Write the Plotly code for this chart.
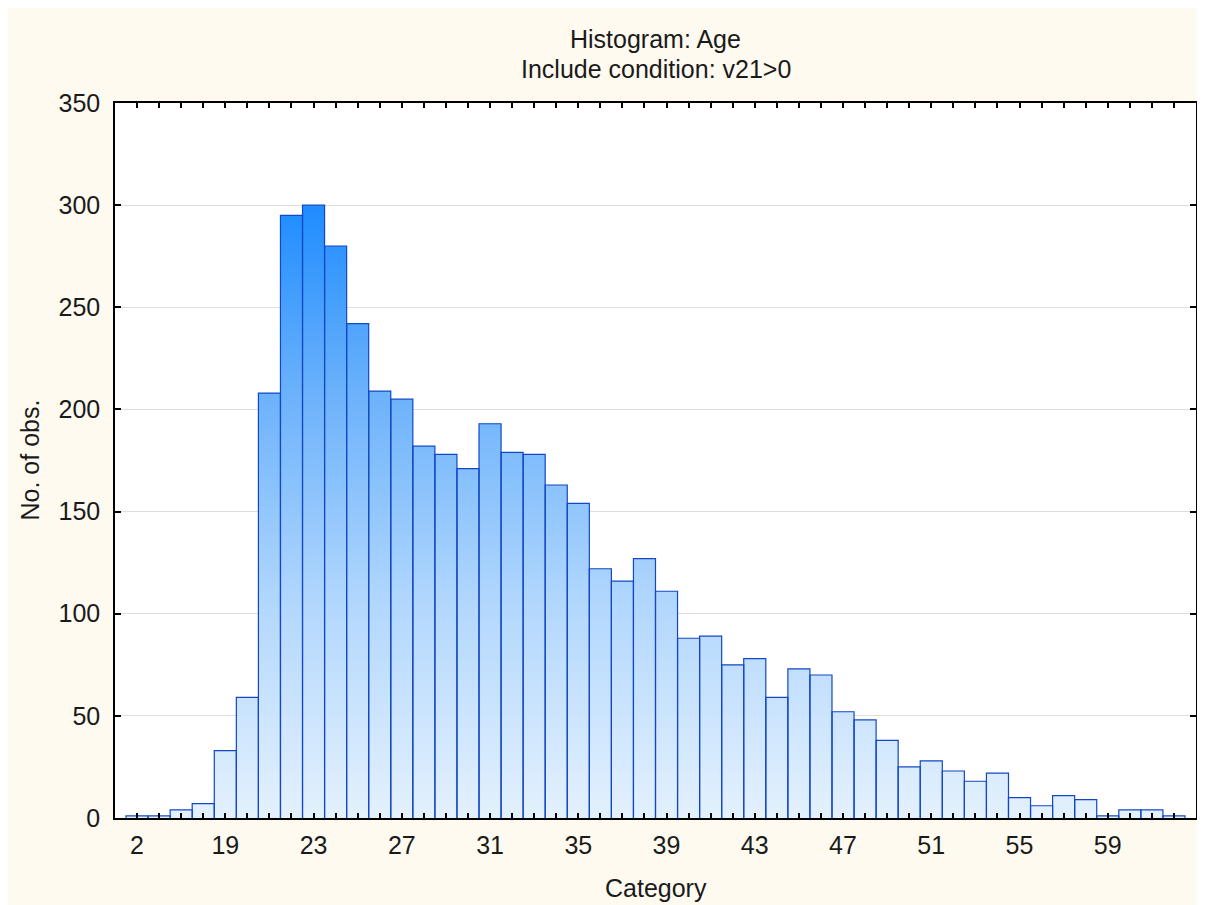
import plotly.graph_objects as go

categories = ["2"] + [str(c) for c in range(16, 63)]
counts = [1, 1, 4, 7, 33, 59, 208, 295, 300, 280, 242, 209, 205, 182, 178, 171,
          193, 179, 178, 163, 154, 122, 116, 127, 111, 88, 89, 75, 78, 59, 73, 70,
          52, 48, 38, 25, 28, 23, 18, 22, 10, 6, 11, 9, 1, 4, 4, 1]
label_every = 4
y_ticks = [0, 50, 100, 150, 200, 250, 300, 350]

idx = list(range(len(categories)))
ticktext = [c if i % label_every == 0 else "" for i, c in enumerate(categories)]

# stepped outline for the gradient fill, derived from counts
step_x = [i - 0.5 for i in idx] + [idx[-1] + 0.5]
step_y = counts + [counts[-1]]

# bar outlines, derived from counts
ox, oy = [], []
for i, v in zip(idx, counts):
    ox += [i - 0.5, i - 0.5, i + 0.5, i + 0.5, None]
    oy += [0, v, v, 0, None]

font = "Liberation Sans, Arial, Helvetica, sans-serif"
txt = "#1a1a1a"
cream = "#FEFAF0"
FS = 25

fig = go.Figure()
fig.add_trace(go.Scatter(
    x=step_x, y=step_y, mode="lines", line=dict(shape="hv", width=0),
    fill="tozeroy",
    fillgradient=dict(type="vertical", start=0, stop=300,
                      colorscale=[[0, "#E4F1FD"], [0.35, "#B2D7FD"],
                                  [0.7, "#6AB1FB"], [1, "#1E8CFF"]]),
    hoverinfo="skip", showlegend=False))
fig.add_trace(go.Scatter(
    x=ox, y=oy, mode="lines", line=dict(color="#1248C6", width=1.2),
    hoverinfo="skip", showlegend=False))

W, H = 1205, 905
ml, mr, mt, mb = 107, 17, 95, 95
pw, ph = W - ml - mr, H - mt - mb

def px_x(p):
    return (p - ml) / pw

def px_y(p):
    return 1 - (p - mt) / ph

fig.update_layout(
    width=W, height=H,
    margin=dict(l=ml, r=mr, t=mt, b=mb),
    paper_bgcolor=cream, plot_bgcolor="white",
    font=dict(family=font, size=FS, color=txt),
    annotations=[
        dict(text="Histogram: Age", xref="paper", yref="paper", x=0.5, y=px_y(31),
             xanchor="center", yanchor="middle", showarrow=False, font=dict(size=FS)),
        dict(text="Include condition: v21>0", xref="paper", yref="paper", x=0.5, y=px_y(61),
             xanchor="center", yanchor="middle", showarrow=False, font=dict(size=FS)),
        dict(text="Category", xref="paper", yref="paper", x=0.5, y=px_y(880),
             xanchor="center", yanchor="middle", showarrow=False, font=dict(size=FS)),
        dict(text="No. of obs.", xref="paper", yref="paper", x=px_x(21), y=0.5,
             xanchor="center", yanchor="middle", textangle=-90, showarrow=False,
             font=dict(size=FS)),
    ],
)
fig.update_xaxes(
    range=[-1, len(categories)], tickmode="array", tickvals=idx, ticktext=ticktext,
    ticks="inside", ticklen=5, tickwidth=1.5, tickcolor="black",
    showline=True, linecolor="black", linewidth=1.5, mirror="ticks",
    showgrid=False, zeroline=False, ticklabelstandoff=4,
    tickfont=dict(size=FS, color=txt))
fig.update_yaxes(
    range=[0, 350], tickmode="array", tickvals=y_ticks,
    ticks="inside", ticklen=6, tickwidth=1.5, tickcolor="black",
    showline=True, linecolor="black", linewidth=1.5, mirror="ticks",
    showgrid=True, gridcolor="#DEDEDE", gridwidth=1, zeroline=False,
    ticklabelstandoff=8, tickfont=dict(size=FS, color=txt))

fig.write_html("out.html")
